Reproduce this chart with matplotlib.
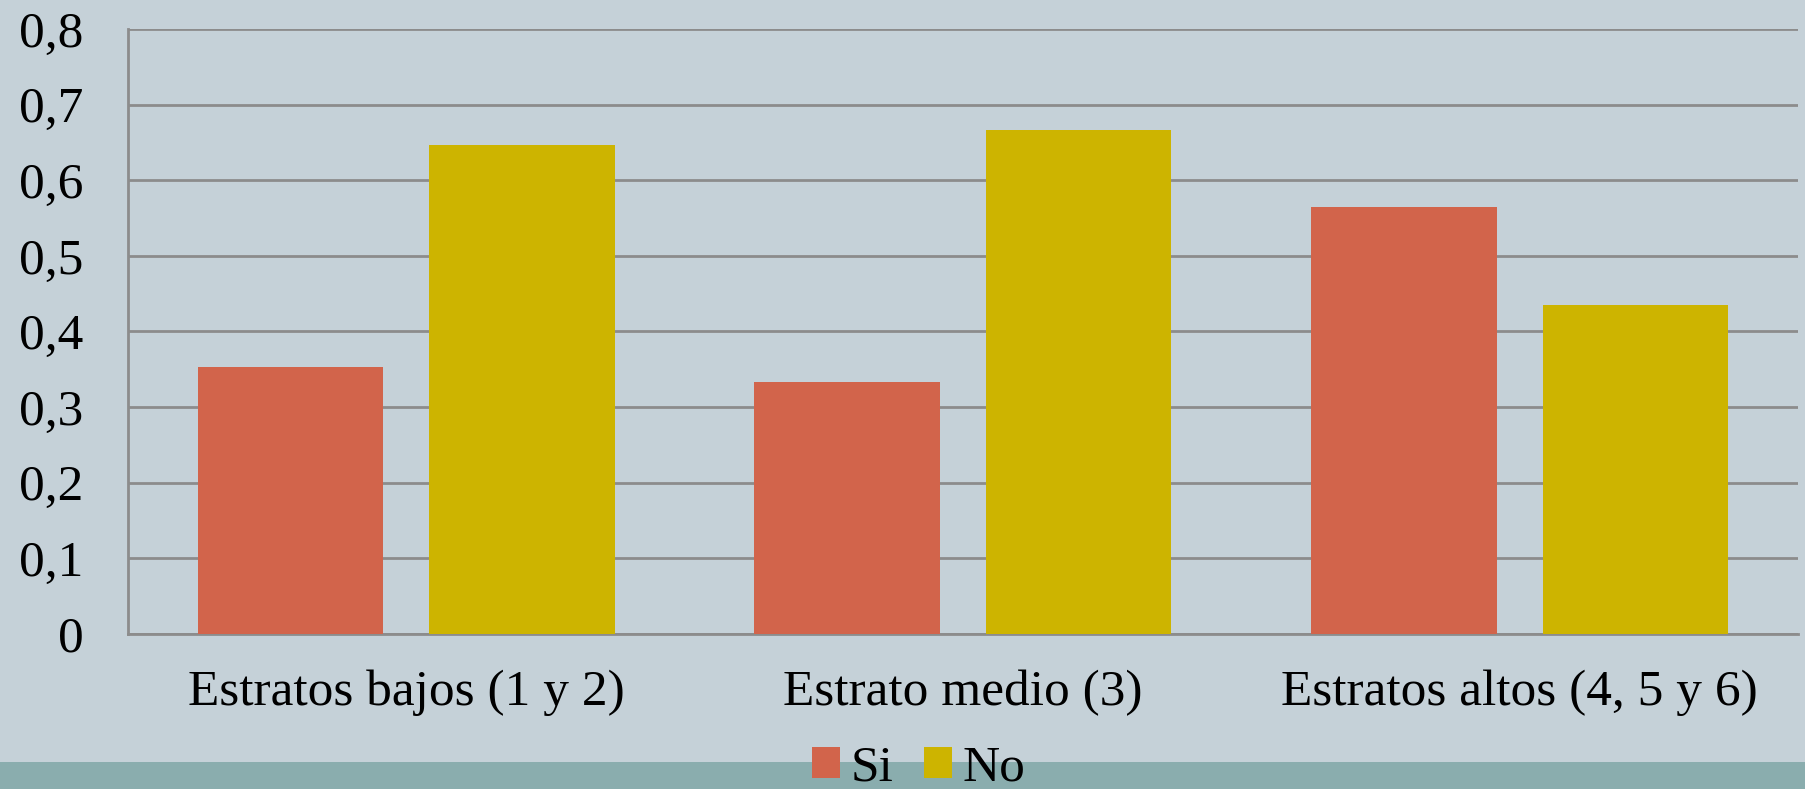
import matplotlib.pyplot as plt
import numpy as np
from matplotlib.patches import Rectangle

categories = ['Estratos bajos (1 y 2)', 'Estrato medio (3)', 'Estratos altos (4, 5 y 6)']
si_values = [0.353, 0.333, 0.565]
no_values = [0.647, 0.667, 0.435]
y_ticks = [0, 0.1, 0.2, 0.3, 0.4, 0.5, 0.6, 0.7, 0.8]
y_labels = ['0', '0,1', '0,2', '0,3', '0,4', '0,5', '0,6', '0,7', '0,8']

BG = '#C5D1D8'
STRIP = '#8AADAE'
RED = '#D2644B'
YELLOW = '#CDB400'
GRID = '#8C8C8C'

plt.rcParams['font.family'] = ['Liberation Serif', 'DejaVu Serif']

fig = plt.figure(figsize=(18.05, 7.89), dpi=100, facecolor=BG)
ax = fig.add_axes([0.0709, 0.1968, 0.9252, 0.7664])
ax.set_facecolor(BG)

# teal strip at the bottom of the slide
fig.patches.append(Rectangle((0, 0), 1, 0.0342, transform=fig.transFigure,
                             facecolor=STRIP, edgecolor='none', zorder=0))

x = np.arange(len(categories))
w = 0.333
ax.bar(x - 0.208, si_values, w, color=RED, label='Si', zorder=3)
ax.bar(x + 0.208, no_values, w, color=YELLOW, label='No', zorder=3)

ax.set_xlim(-0.5, len(categories) - 0.5)
ax.set_ylim(0, 0.8)
ax.set_yticks(y_ticks)
ax.set_yticklabels(y_labels)
ax.set_xticks(x)
ax.set_xticklabels(categories)

ax.tick_params(axis='y', length=0, pad=32, labelsize=37)
ax.tick_params(axis='x', length=0, pad=26, labelsize=37)

ax.grid(axis='y', color=GRID, linewidth=2, zorder=1)
for s in ['top', 'right']:
    ax.spines[s].set_visible(False)
for s in ['left', 'bottom']:
    ax.spines[s].set_color(GRID)
    ax.spines[s].set_linewidth(2)

fig.legend(loc='center', bbox_to_anchor=(0.509, 0.026), ncol=2, frameon=False,
           fontsize=37, handlelength=0.55, handleheight=0.55, handletextpad=0.2,
           columnspacing=0.6, borderpad=0)

fig.savefig('out.png', dpi=100, facecolor=BG)
